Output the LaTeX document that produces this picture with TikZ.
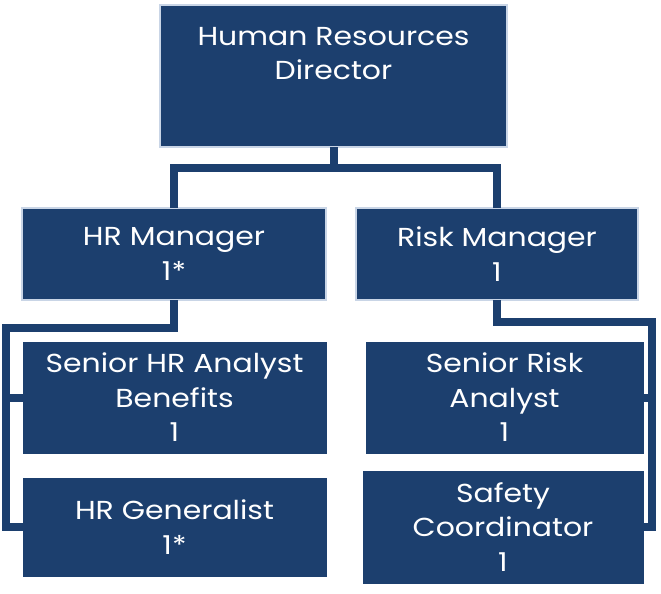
\documentclass[tikz,border=0pt]{standalone}
\usepackage{fontspec}
\setmainfont{Poppins}[FakeStretch=1.15]
\usetikzlibrary{positioning}

\definecolor{navy}{HTML}{1C3F6E}
\definecolor{edgeline}{HTML}{C9D5E6}

\begin{document}
\begin{tikzpicture}[x=1pt, y=-1pt,
  every node/.style={font=\fontsize{26}{34.5}\selectfont, text=white, align=center},
  unit/.style={fill=navy, draw=navy, inner sep=0pt},
  lead/.style={unit, draw=navy, line width=0.9pt, double=edgeline, double distance=1.1pt},
  conn/.style={draw=navy, line width=8pt, line join=miter}
]
\useasboundingbox (0,0) rectangle (661,594);

\node[lead, minimum width=347pt, minimum height=142pt] (dir) at (333.5,76) {Human Resources\\Director\\\strut};
\node[lead, minimum width=304pt, minimum height=92pt] (hrm) at (174,254) {HR Manager\\1*};
\node[lead, minimum width=282pt, minimum height=92pt] (riskm) at (497,254) {Risk Manager\\1};

\node[unit, minimum width=303pt, minimum height=111pt] (sra) at (174.5,397.5) {Senior HR Analyst\\Benefits\\1};
\node[unit, minimum width=303pt, minimum height=98pt] (gen) at (174.5,527) {HR Generalist\\1*};
\node[unit, minimum width=277pt, minimum height=111pt] (srisk) at (504.5,397.5) {Senior Risk\\Analyst\\1};
\node[unit, minimum width=280pt, minimum height=112pt] (safety) at (503,527) {Safety\\Coordinator\\1};

% top level
\draw[conn] (dir.south) -- ++(0,21) -| (hrm.north);
\draw[conn] (dir.south) -- ++(0,21) -| (riskm.north);

% HR side
\coordinate (hrbus) at (6,328);
\draw[conn] (hrm.south) |- (hrbus) -- (hrbus |- gen.west) -- (gen.west);
\draw[conn] (hrbus |- sra.west) -- (sra.west);

% risk side
\coordinate (riskbus) at (652,322);
\draw[conn] (riskm.south) |- (riskbus) -- (riskbus |- safety.east) -- (safety.east);
\draw[conn] (riskbus |- srisk.east) -- (srisk.east);
\end{tikzpicture}
\end{document}
